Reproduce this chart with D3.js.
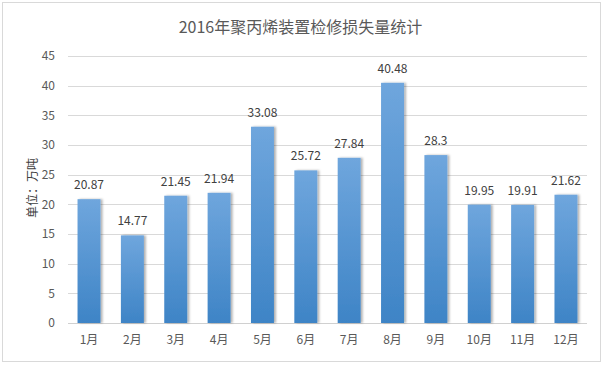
<!DOCTYPE html>
<html>
<head>
<meta charset="utf-8">
<script src="https://cdn.jsdelivr.net/npm/d3@7"></script>
<style>
  body { margin: 0; background: #fff; }
  text { font-family: "Microsoft YaHei", "Noto Sans CJK SC", sans-serif; }
</style>
</head>
<body>
<script>
const width = 605;
const height = 365;

const months = ["1月", "2月", "3月", "4月", "5月", "6月", "7月", "8月", "9月", "10月", "11月", "12月"];
const values = [20.87, 14.77, 21.45, 21.94, 33.08, 25.72, 27.84, 40.48, 28.3, 19.95, 19.91, 21.62];
const labels = ["20.87", "14.77", "21.45", "21.94", "33.08", "25.72", "27.84", "40.48", "28.3", "19.95", "19.91", "21.62"];
const yTicks = [0, 5, 10, 15, 20, 25, 30, 35, 40, 45];

const plotLeft = 68, plotRight = 587, plotTop = 56, plotBottom = 323;

let svg = d3.select("body")
    .append("svg")
    .attr("width", width)
    .attr("height", height);

// outer frame
svg.append("rect")
    .attr("x", 2.5).attr("y", 2.5)
    .attr("width", 598).attr("height", 359)
    .attr("fill", "#fff")
    .attr("stroke", "#d9d9d9");

let defs = svg.append("defs");
let grad = defs.append("linearGradient")
    .attr("id", "barGrad")
    .attr("x1", 0).attr("y1", 0).attr("x2", 0).attr("y2", 1);
grad.append("stop").attr("offset", "0%").attr("stop-color", "#6fa6dd");
grad.append("stop").attr("offset", "100%").attr("stop-color", "#3e84c6");

let shadow = defs.append("filter").attr("id", "shadow")
    .attr("x", "-20%").attr("y", "-5%").attr("width", "150%").attr("height", "110%");
shadow.append("feDropShadow")
    .attr("dx", 2).attr("dy", 0).attr("stdDeviation", 1.2)
    .attr("flood-color", "#000").attr("flood-opacity", 0.3);

var xScale = d3.scaleBand()
    .domain(months)
    .range([plotLeft, plotRight])
    .paddingInner(0.47)
    .paddingOuter(0.22);

var yScale = d3.scaleLinear()
    .domain([0, 45])
    .range([plotBottom, plotTop]);

// gridlines
svg.append("g")
    .selectAll("line")
    .data(yTicks)
    .enter()
    .append("line")
    .attr("x1", plotLeft)
    .attr("x2", plotRight)
    .attr("y1", d => Math.round(yScale(d)) + 0.5)
    .attr("y2", d => Math.round(yScale(d)) + 0.5)
    .attr("stroke", d => d === 0 ? "#d0d0d0" : "#d9d9d9");

// y axis labels
var yAxis = d3.axisLeft(yScale).tickValues(yTicks).tickSize(0).tickPadding(0);
let yg = svg.append("g")
    .attr("transform", "translate(" + (plotLeft - 13) + ",0)")
    .call(yAxis);
yg.select(".domain").remove();
yg.selectAll("text")
    .attr("fill", "#595959")
    .style("font-size", "12px");

// x axis labels
var xAxis = d3.axisBottom(xScale).tickSize(0).tickPadding(0);
let xg = svg.append("g")
    .attr("transform", "translate(0," + (plotBottom + 12) + ")")
    .call(xAxis);
xg.select(".domain").remove();
xg.selectAll("text")
    .attr("fill", "#595959")
    .style("font-size", "12px");

// bars
svg.append("g")
    .selectAll("rect")
    .data(values)
    .enter()
    .append("rect")
    .attr("x", (d, i) => xScale(months[i]))
    .attr("y", d => yScale(d))
    .attr("width", xScale.bandwidth())
    .attr("height", d => plotBottom - yScale(d))
    .attr("fill", "url(#barGrad)")
    .attr("filter", "url(#shadow)");

// value labels
svg.append("g")
    .selectAll("text")
    .data(values)
    .enter()
    .append("text")
    .text((d, i) => labels[i])
    .attr("x", (d, i) => xScale(months[i]) + xScale.bandwidth() / 2)
    .attr("y", d => yScale(d) - 10)
    .attr("text-anchor", "middle")
    .attr("fill", "#404040")
    .style("font-size", "12px");

// title
svg.append("text")
    .text("2016年聚丙烯装置检修损失量统计")
    .attr("x", width / 2 - 2)
    .attr("y", 33)
    .attr("text-anchor", "middle")
    .attr("fill", "#595959")
    .style("font-size", "16px");

// y axis title
svg.append("text")
    .text("单位：万吨")
    .attr("transform", "translate(37,188) rotate(-90)")
    .attr("text-anchor", "middle")
    .attr("fill", "#404040")
    .style("font-size", "12px");
</script>
</body>
</html>
